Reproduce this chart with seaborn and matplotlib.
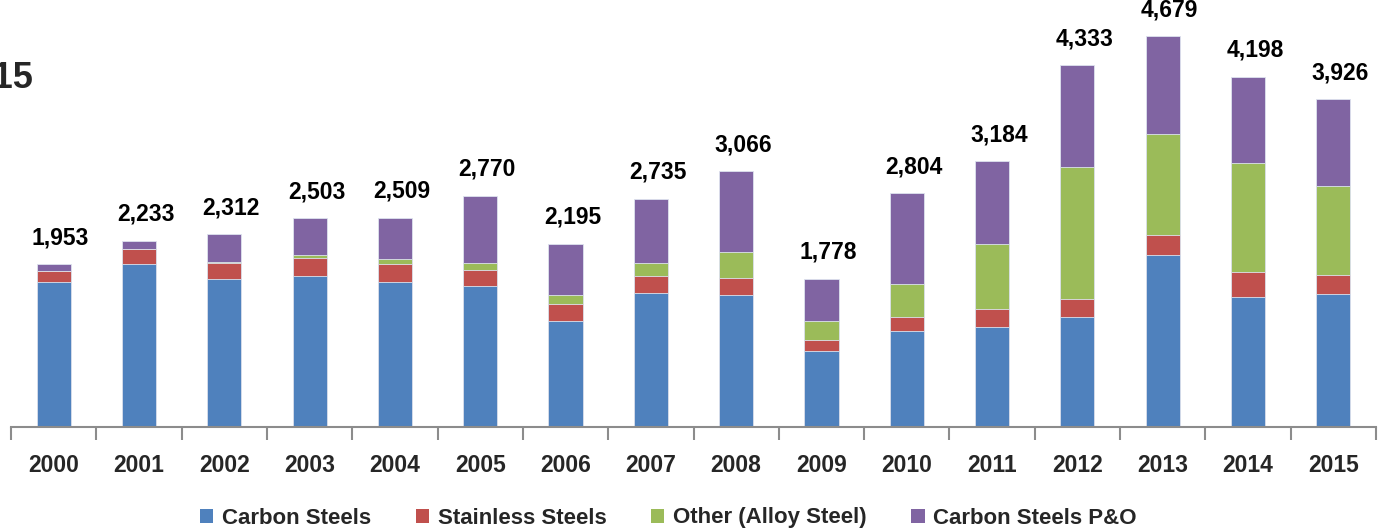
import matplotlib
matplotlib.use("Agg")
import matplotlib.pyplot as plt
from matplotlib.patches import Rectangle
import seaborn as sns
import numpy as np

years = ["2000", "2001", "2002", "2003", "2004", "2005", "2006", "2007",
         "2008", "2009", "2010", "2011", "2012", "2013", "2014", "2015"]
carbon = [1735, 1950, 1780, 1810, 1735, 1690, 1270, 1610, 1585, 915, 1150, 1200, 1320, 2065, 1560, 1600]
stainless = [135, 180, 185, 215, 220, 192, 205, 200, 200, 130, 165, 212, 215, 240, 295, 218]
other = [3, 3, 15, 32, 57, 88, 105, 160, 315, 232, 400, 782, 1575, 1210, 1310, 1075]
carbon_po = [80, 100, 332, 446, 497, 800, 615, 765, 966, 501, 1089, 990, 1223, 1164, 1033, 1033]
totals = [1953, 2233, 2312, 2503, 2509, 2770, 2195, 2735, 3066, 1778, 2804, 3184, 4333, 4679, 4198, 3926]
series_names = ["Carbon Steels", "Stainless Steels", "Other (Alloy Steel)", "Carbon Steels P&O"]
colors = ["#4F81BD", "#C0504D", "#9BBB59", "#8064A2"]

sns.set_style("white")
plt.rcParams["font.family"] = ["Liberation Sans", "DejaVu Sans"]

W, H = 1378, 532
fig = plt.figure(figsize=(W / 100, H / 100), dpi=100)
base_y = 427.3
ax = fig.add_axes([11 / W, (H - base_y) / H, 1365 / W, base_y / H])

series = [carbon, stainless, other, carbon_po]
cum = np.cumsum(np.array(series), axis=0)
# draw from tallest cumulative to shortest so each layer shows
for k in range(3, -1, -1):
    sns.barplot(x=years, y=cum[k], color=colors[k], width=0.4, saturation=1,
                edgecolor="#DDE3EE", linewidth=0.6, ax=ax)

for i, t in enumerate(totals):
    ax.annotate(f"{t:,}", (i, cum[3][i]), xytext=(5, 14.4), textcoords="offset points",
                ha="center", va="baseline", fontweight="bold", fontsize=16.5, color="black")

ax.set_xlim(-0.5, 15.5)
ax.set_ylim(0, 5115)
ax.set_yticks([])
ax.set_xlabel("")
ax.set_ylabel("")
for s in ["top", "right", "left"]:
    ax.spines[s].set_visible(False)
ax.spines["bottom"].set_color("#8C8C8C")
ax.spines["bottom"].set_linewidth(1.5)
ax.set_xticks(np.arange(-0.5, 16, 1), minor=True)
ax.tick_params(axis="x", which="minor", bottom=True, length=9, width=1.5,
               color="#8C8C8C", direction="out")
ax.tick_params(axis="x", which="major", bottom=True, length=0, pad=19)
for lab in ax.get_xticklabels():
    lab.set_fontweight("bold")
    lab.set_fontsize(16.5)

handles = [Rectangle((0, 0), 1, 1, facecolor=c, edgecolor="none") for c in colors]
fig.legend(handles, series_names, loc="center", bbox_to_anchor=(0.485, (H - 518) / H),
           ncol=4, frameon=False, handlelength=0.6, handleheight=0.6, handletextpad=0.4,
           columnspacing=2.0, prop={"weight": "bold", "size": 16})

# partially visible subtitle at the left edge (cut off as in the reference)
fig.text(34 / W, (H - 88) / H, "2000-2015", ha="right", va="baseline",
         fontsize=26, fontweight="bold")

fig.savefig("out.png", dpi=100)
